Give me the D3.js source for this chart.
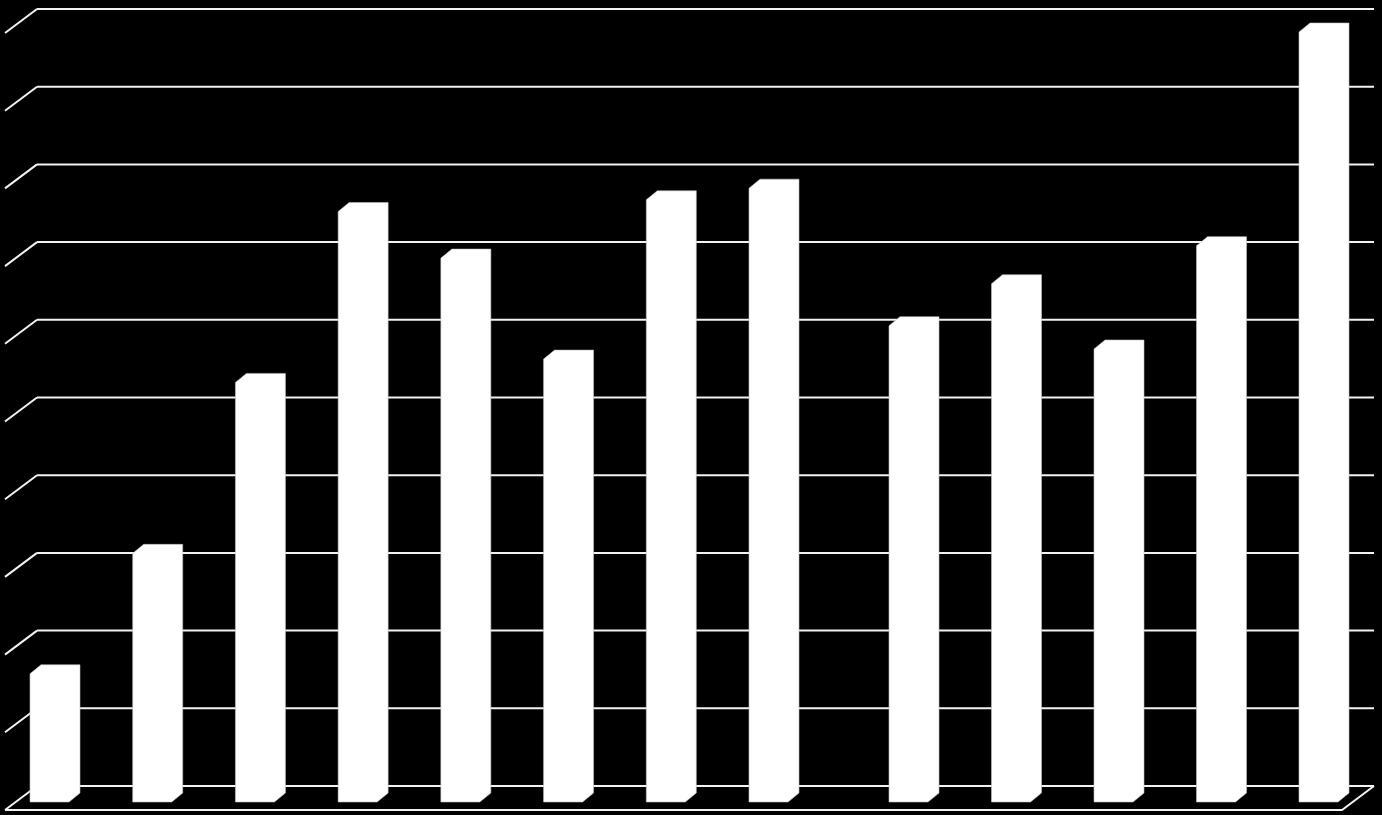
<!DOCTYPE html>
<html>
<head>
<meta charset="utf-8">
<script src="https://cdn.jsdelivr.net/npm/d3@7"></script>
<style>
  html, body { margin: 0; padding: 0; background: #000; overflow: hidden; }
</style>
</head>
<body>
<div id="chart"></div>
<script>
// categories (no labels shown in the picture)
const categories = ['1', '2', '3', '4', '5', '6', '7', '8', '9', '10', '11', '12', '13'];
// bar values (10 intervals, 0..100)
const values = [16.5, 32, 54, 76, 70, 57, 77.5, 79, 61.3, 66.7, 58.3, 71.6, 99.1];
const yTicks = [0, 10, 20, 30, 40, 50, 60, 70, 80, 90, 100];

const width = 1382;
const height = 815;

// back wall and 3D offset of the floor
const wall = { left: 37, right: 1374, top: 9, bottom: 786 };
const depth = { dx: -32, dy: 24 };
// bars: front face width and their own depth
const barW = 39;
const barD = { dx: 11, dy: -9 };
const barBase = 802; // bottom of bar front face

const svg = d3.select('#chart')
  .append('svg')
  .attr('width', width)
  .attr('height', height)
  .style('background-color', '#000');

const y = d3.scaleLinear()
  .domain([0, 100])
  .range([wall.bottom, wall.top]);

// bars sit in the middle of the floor; same unit as the wall
const barHeight = (v) => y(0) - y(v);

// x: gap after the 8th bar
const x = d3.scaleLinear()
  .domain([0, 7, 8, 12])
  .range([30, 749, 889, 1299]);

const lineColor = '#f2f2f2';

// gridlines on back wall + diagonal on the left side wall
const grid = svg.append('g');
grid.selectAll('line.h')
  .data(yTicks)
  .join('line')
  .attr('class', 'h')
  .attr('x1', wall.left)
  .attr('x2', wall.right)
  .attr('y1', (d) => y(d))
  .attr('y2', (d) => y(d))
  .attr('stroke', lineColor)
  .attr('stroke-width', 2);

grid.selectAll('line.d')
  .data(yTicks)
  .join('line')
  .attr('class', 'd')
  .attr('x1', wall.left)
  .attr('y1', (d) => y(d))
  .attr('x2', wall.left + depth.dx)
  .attr('y2', (d) => y(d) + depth.dy)
  .attr('stroke', lineColor)
  .attr('stroke-width', 2);

// floor front edge and right side
svg.append('path')
  .attr('d', `M${wall.left + depth.dx},${y(0) + depth.dy}H${wall.right + depth.dx}L${wall.right},${y(0)}`)
  .attr('fill', 'none')
  .attr('stroke', lineColor)
  .attr('stroke-width', 2);

// bars: front + side + top all white, so one silhouette each
svg.append('g')
  .selectAll('path')
  .data(values)
  .join('path')
  .attr('d', (d, i) => {
    const l = x(i);
    const top = barBase - barHeight(d);
    return `M${l},${barBase}V${top}l${barD.dx},${barD.dy}h${barW}` +
      `V${barBase + barD.dy}l${-barD.dx},${-barD.dy}Z`;
  })
  .attr('fill', '#fff')
  .attr('stroke', '#bfbfbf')
  .attr('stroke-width', 0.6)
  .append('title')
  .text((d, i) => `${categories[i]}: ${d}`);
</script>
</body>
</html>
